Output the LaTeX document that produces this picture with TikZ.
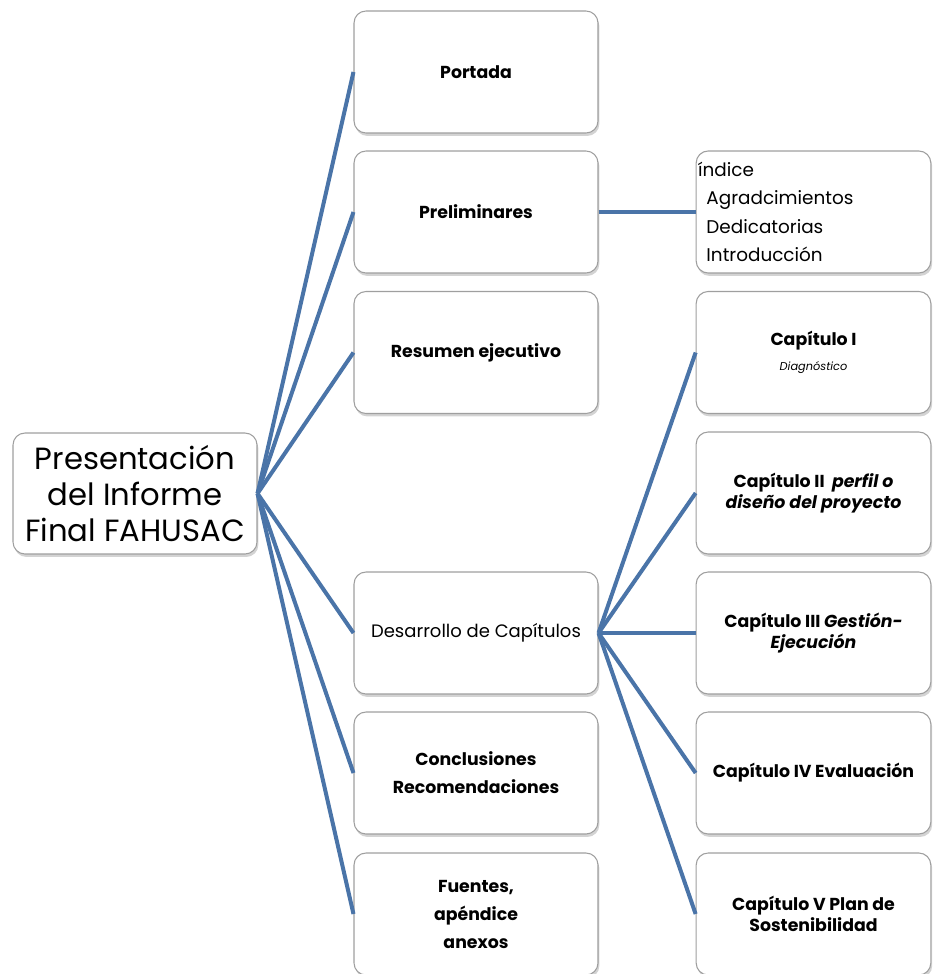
\documentclass[tikz,border=0pt]{standalone}
\usepackage{fontspec}
\setmainfont{Poppins}
\usetikzlibrary{shadows}
\definecolor{linkblue}{HTML}{4A74A8}
\begin{document}
\begin{tikzpicture}[x=0.75pt,y=-0.75pt,
  box/.style={draw=gray!75, line width=0.8pt, fill=white, rounded corners=9pt,
    drop shadow={shadow xshift=1pt, shadow yshift=-2.2pt, opacity=0.35},
    minimum width=183pt, minimum height=91.5pt, align=center, inner sep=2pt,
    font=\fontsize{13}{16}\selectfont\bfseries},
  rbox/.style={box, minimum width=176pt},
  link/.style={draw=linkblue, line width=3pt}]
\useasboundingbox (0,0) rectangle (932,974);
% root
\node[box, minimum height=90.75pt, font=\fontsize{23}{27}\selectfont] (root) at (135,493.5)
  {Presentación\\del Informe\\Final FAHUSAC};
% left column
\node[box] (portada) at (476,72) {Portada};
\node[box] (prelim) at (476,212) {Preliminares};
\node[box] (resumen) at (476,352.5) {Resumen ejecutivo};
\node[box, font=\fontsize{13.5}{16}\selectfont] (desarrollo) at (476,633) {Desarrollo de Capítulos};
\node[box, font=\fontsize{13}{21}\selectfont\bfseries] (concl) at (476,773) {Conclusiones\\Recomendaciones};
\node[box, font=\fontsize{13}{21}\selectfont\bfseries] (fuentes) at (476,914) {Fuentes,\\apéndice\\anexos};
% right column
\node[rbox, align=left, text width=173pt, inner xsep=1pt, font=\fontsize{13.8}{21.4}\selectfont] (indice) at (813.5,212)
  {índice\\\hspace*{0.45em}Agradcimientos\\\hspace*{0.45em}Dedicatorias\\\hspace*{0.45em}Introducción};
\node[rbox] (cap1) at (813.5,352.5) {Capítulo I\\[3pt]{\fontsize{8.5}{10}\selectfont\mdseries\itshape Diagnóstico}};
\node[rbox] (cap2) at (813.5,493) {Capítulo II\ \ \textit{perfil o}\\\textit{diseño del proyecto}};
\node[rbox] (cap3) at (813.5,633) {Capítulo III \textit{Gestión-}\\\textit{Ejecución}};
\node[rbox] (cap4) at (813.5,773) {Capítulo IV Evaluación};
\node[rbox] (cap5) at (813.5,914) {Capítulo V Plan de\\Sostenibilidad};
% connectors
\foreach \n in {portada,prelim,resumen,desarrollo,concl,fuentes}
  \draw[link] (root.east) -- (\n.west);
\draw[link] (prelim.east) -- (indice.west);
\foreach \n in {cap1,cap2,cap3,cap4,cap5}
  \draw[link] (desarrollo.east) -- (\n.west);
\end{tikzpicture}
\end{document}
